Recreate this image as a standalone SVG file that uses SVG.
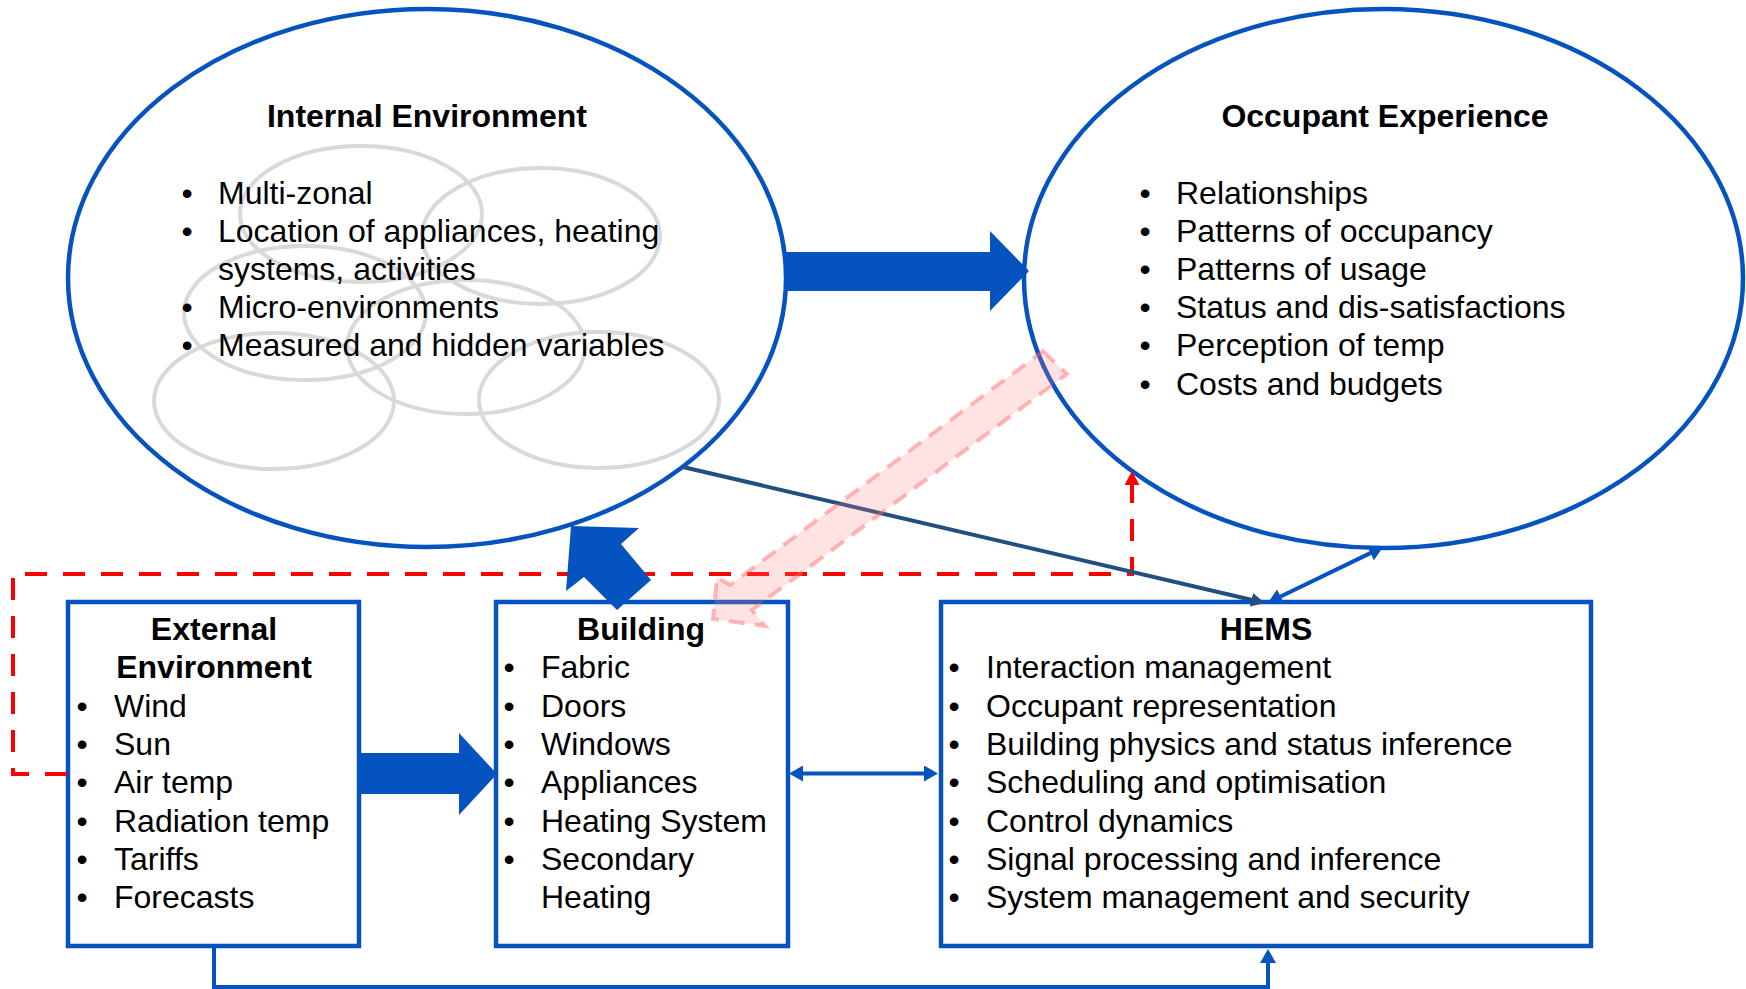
<svg xmlns="http://www.w3.org/2000/svg" width="1746" height="989" viewBox="0 0 1746 989">
<style>
.t{font-family:"Liberation Sans",Arial,sans-serif;font-size:32px;fill:#000}
.b{font-weight:bold}
.m{text-anchor:middle}
.node{fill:#fff;stroke:#0553BE;stroke-width:4.5}
.gray{fill:none;stroke:#d9d9d9;stroke-width:4}
.blk{fill:#0553BE}
.ln{fill:none;stroke:#0553BE;stroke-width:4}
</style>
<defs>
<marker id="hb" viewBox="0 0 14 16" refX="4" refY="8" markerWidth="14" markerHeight="16" markerUnits="userSpaceOnUse" orient="auto-start-reverse"><path d="M0,0 L14,8 L0,16 Z" fill="#0553BE"/></marker>
<marker id="hn" viewBox="0 0 14 14" refX="4" refY="7" markerWidth="14" markerHeight="14" markerUnits="userSpaceOnUse" orient="auto-start-reverse"><path d="M0,0 L14,7 L0,14 Z" fill="#234E80"/></marker>
<marker id="hr" viewBox="0 0 14 15" refX="4" refY="7.5" markerWidth="14" markerHeight="15" markerUnits="userSpaceOnUse" orient="auto-start-reverse"><path d="M0,0 L14,7.5 L0,15 Z" fill="#ff0000"/></marker>
</defs>

<g id="internal-environment">
<ellipse class="node" cx="427" cy="278" rx="359" ry="269"/>
<ellipse class="gray" cx="361" cy="214" rx="121" ry="68"/>
<ellipse class="gray" cx="541" cy="236" rx="119" ry="68"/>
<ellipse class="gray" cx="305" cy="313" rx="121" ry="67"/>
<ellipse class="gray" cx="466" cy="347" rx="119" ry="67"/>
<ellipse class="gray" cx="274" cy="401" rx="120" ry="68"/>
<ellipse class="gray" cx="599" cy="400" rx="120" ry="68"/>
<text class="t b m" x="427" y="127">Internal Environment</text>
<text class="t m" x="187" y="204">•</text><text class="t" x="218" y="204">Multi-zonal</text>
<text class="t m" x="187" y="242">•</text><text class="t" x="218" y="242">Location of appliances, heating</text>
<text class="t" x="218" y="280">systems, activities</text>
<text class="t m" x="187" y="318">•</text><text class="t" x="218" y="318">Micro-environments</text>
<text class="t m" x="187" y="356">•</text><text class="t" x="218" y="356">Measured and hidden variables</text>
</g>

<g id="occupant-experience">
<ellipse class="node" cx="1383.5" cy="278.5" rx="359.5" ry="269.5"/>
<text class="t b m" x="1385" y="127">Occupant Experience</text>
<text class="t m" x="1145" y="204">•</text><text class="t" x="1176" y="204">Relationships</text>
<text class="t m" x="1145" y="242">•</text><text class="t" x="1176" y="242">Patterns of occupancy</text>
<text class="t m" x="1145" y="280">•</text><text class="t" x="1176" y="280">Patterns of usage</text>
<text class="t m" x="1145" y="318">•</text><text class="t" x="1176" y="318">Status and dis-satisfactions</text>
<text class="t m" x="1145" y="356">•</text><text class="t" x="1176" y="356">Perception of temp</text>
<text class="t m" x="1145" y="395">•</text><text class="t" x="1176" y="395">Costs and budgets</text>
</g>

<g id="external-environment">
<rect class="node" x="68" y="602" width="291" height="344"/>
<text class="t b m" x="214" y="640">External</text>
<text class="t b m" x="214" y="678">Environment</text>
<text class="t m" x="82" y="717">•</text><text class="t" x="114" y="717">Wind</text>
<text class="t m" x="82" y="755">•</text><text class="t" x="114" y="755">Sun</text>
<text class="t m" x="82" y="793">•</text><text class="t" x="114" y="793">Air temp</text>
<text class="t m" x="82" y="832">•</text><text class="t" x="114" y="832">Radiation temp</text>
<text class="t m" x="82" y="870">•</text><text class="t" x="114" y="870">Tariffs</text>
<text class="t m" x="82" y="908">•</text><text class="t" x="114" y="908">Forecasts</text>
</g>

<g id="building">
<rect class="node" x="496" y="602" width="292" height="344"/>
<text class="t b m" x="641" y="640">Building</text>
<text class="t m" x="509" y="678">•</text><text class="t" x="541" y="678">Fabric</text>
<text class="t m" x="509" y="717">•</text><text class="t" x="541" y="717">Doors</text>
<text class="t m" x="509" y="755">•</text><text class="t" x="541" y="755">Windows</text>
<text class="t m" x="509" y="793">•</text><text class="t" x="541" y="793">Appliances</text>
<text class="t m" x="509" y="832">•</text><text class="t" x="541" y="832">Heating System</text>
<text class="t m" x="509" y="870">•</text><text class="t" x="541" y="870">Secondary</text>
<text class="t" x="541" y="908">Heating</text>
</g>

<g id="hems">
<rect class="node" x="941" y="602" width="650" height="344"/>
<text class="t b m" x="1266" y="640">HEMS</text>
<text class="t m" x="954" y="678">•</text><text class="t" x="986" y="678">Interaction management</text>
<text class="t m" x="954" y="717">•</text><text class="t" x="986" y="717">Occupant representation</text>
<text class="t m" x="954" y="755">•</text><text class="t" x="986" y="755">Building physics and status inference</text>
<text class="t m" x="954" y="793">•</text><text class="t" x="986" y="793">Scheduling and optimisation</text>
<text class="t m" x="954" y="832">•</text><text class="t" x="986" y="832">Control dynamics</text>
<text class="t m" x="954" y="870">•</text><text class="t" x="986" y="870">Signal processing and inference</text>
<text class="t m" x="954" y="908">•</text><text class="t" x="986" y="908">System management and security</text>
</g>

<g id="connectors">
<path d="M1132,481 V574 H13 V774 H68" fill="none" stroke="#ff0000" stroke-width="4" stroke-dasharray="22 16" marker-start="url(#hr)"/>
<path d="M683,467 L1255.3,600.7" fill="none" stroke="#234E80" stroke-width="4" marker-end="url(#hn)"/>
<path class="ln" d="M1277,598.3 L1374,551.4" marker-start="url(#hb)" marker-end="url(#hb)"/>
<path class="ln" d="M799,773.5 L928,773.5" marker-start="url(#hb)" marker-end="url(#hb)"/>
<path class="ln" d="M214,948 V987 H1268 V959" marker-end="url(#hb)"/>
<polygon class="blk" points="786,252 990,252 990,231 1029,271 990,311 990,291 786,291"/>
<polygon class="blk" points="359,753 459,753 459,733 497,774 459,815 459,794 359,794"/>
<polygon class="blk" points="571,526 639,528 621,544 651,580 617,610 584,577 566,591"/>
<polygon points="1043,351 1067,374 752,610 765,626 713,619 717,577 730,585" fill="#ff8080" fill-opacity="0.22" stroke="#ff6666" stroke-opacity="0.45" stroke-width="4" stroke-dasharray="16 10"/>
</g>
</svg>
